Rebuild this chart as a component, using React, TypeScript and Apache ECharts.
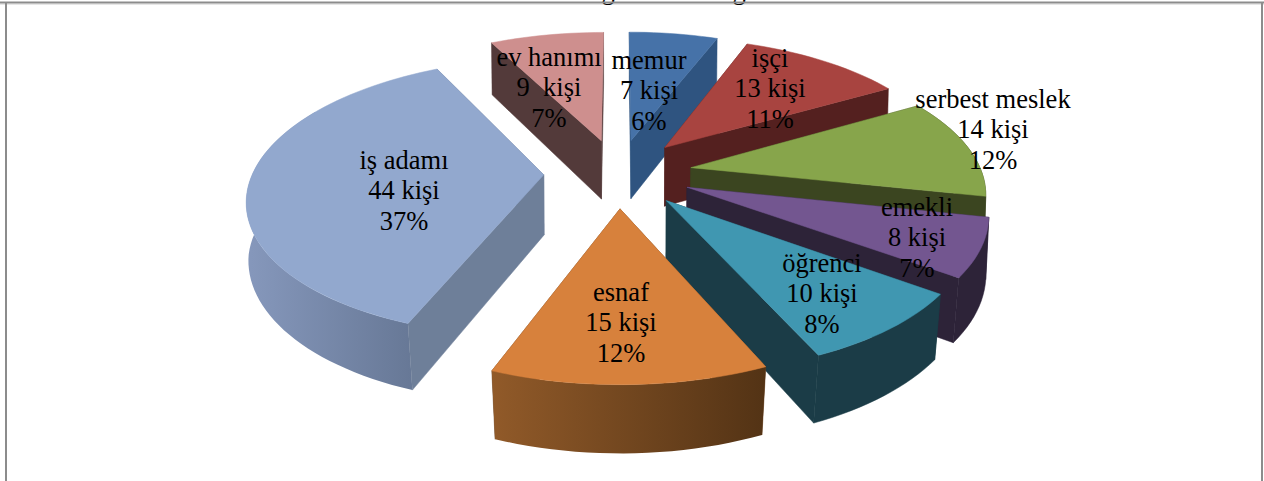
import React, { useEffect, useRef } from "react";
import * as echarts from "echarts";

const names = ["memur", "işçi", "serbest meslek", "emekli", "öğrenci", "esnaf", "iş adamı", "ev hanımı"];
const values = [7, 13, 14, 8, 10, 15, 44, 9];
const percents = [6, 11, 12, 7, 8, 12, 37, 7];
const countTexts = ["7 kişi", "13 kişi", "14 kişi", "8 kişi", "10 kişi", "15 kişi", "44 kişi", "9\u00a0 kişi"];
const titleFragments = ["g", "g"];

const topColors = ["#4672A8", "#A84440", "#87A54B", "#735690", "#4097B1", "#D7813C", "#92A8CE", "#CE8F8E"];
const wallColors = ["#2F5480", "#54201F", "#3B4520", "#2D2338", "#1B3C47", "#6B4220", "#6E7F99", "#533A3A"];
const outerGradients: (string[] | null)[] = [null, null, null, null, null, ["#915A29", "#533315"], ["#8698BC", "#677896"], null];

// painter's order, back to front
const paintOrder = [7, 0, 1, 6, 2, 3, 4, 5];
// label centres (middle line), layout only
const labelCentres = [
  [649, 90], [770, 88], [993, 129], [917, 237], [822, 293], [621, 322], [404, 190], [549, 87],
];
const titleFragmentX = [608, 739];

const CX = 618, CY = 173, A = 291, B = 135, K = 0.159, EXPLODE = 0.255;
const total = values.reduce((a, b) => a + b, 0);
const rad = (d: number) => (d * Math.PI) / 180;

function project(X: number, Y: number, bottom: boolean) {
  const w = 1 - K * Y;
  let sx = (A * X) / w;
  let sy = (B * Y) / w;
  if (bottom) {
    sx *= Math.min(0.995, 0.998 - 0.02 * Y);
    sy += 60 + 7 * Y;
  }
  return [CX + sx, CY + sy];
}

function sliceGeometry(i: number) {
  const start = (values.slice(0, i).reduce((a, b) => a + b, 0) / total) * 360;
  const end = start + (values[i] / total) * 360;
  const mid = rad((start + end) / 2);
  const ox = EXPLODE * Math.sin(mid);
  const oy = -EXPLODE * Math.cos(mid);
  const at = (deg: number, rho: number, bottom: boolean) =>
    project(rho * Math.sin(rad(deg)) + ox, -rho * Math.cos(rad(deg)) + oy, bottom);
  return { start, end, at };
}

function arc(at: any, a: number, b: number, bottom: boolean) {
  const pts: number[][] = [];
  const n = Math.max(2, Math.ceil(Math.abs(b - a) / 2));
  for (let j = 0; j <= n; j++) pts.push(at(a + ((b - a) * j) / n, 1, bottom));
  return pts;
}

function renderSlice(_params: any, api: any) {
  const i = api.value(0);
  const { start, end, at } = sliceGeometry(i);
  const wallColor = wallColors[i];
  const walls: { pts: number[][]; fill: any; stroke: any }[] = [];
  const radial = (deg: number) => [at(deg, 0, false), at(deg, 1, false), at(deg, 1, true), at(deg, 0, true)];
  walls.push({ pts: radial(start), fill: wallColor, stroke: wallColor });
  walls.push({ pts: radial(end), fill: wallColor, stroke: wallColor });
  const fa = Math.max(start, 60);
  const fb = Math.min(end, 300);
  if (fb > fa) {
    const grad = outerGradients[i];
    const fill = grad
      ? new echarts.graphic.LinearGradient(0, 0, 1, 0, [
          { offset: 0, color: grad[0] },
          { offset: 1, color: grad[1] },
        ])
      : wallColor;
    walls.push({
      pts: [...arc(at, fa, fb, false), ...arc(at, fb, fa, true)],
      fill,
      stroke: grad ? "none" : wallColor,
    });
  }
  const meanY = (p: number[][]) => p.reduce((s, q) => s + q[1], 0) / p.length;
  walls.sort((a, b) => meanY(a.pts) - meanY(b.pts));
  const children: any[] = walls.map((w) => ({
    type: "polygon",
    shape: { points: w.pts },
    style: { fill: w.fill, stroke: w.stroke, lineWidth: 0.5 },
  }));
  children.push({
    type: "polygon",
    shape: { points: [at(start, 0, false), ...arc(at, start, end, false)] },
    style: { fill: topColors[i], stroke: topColors[i], lineWidth: 0.5 },
  });
  return { type: "group", children };
}

function renderLabel(_params: any, api: any) {
  const i = api.value(0);
  return {
    type: "text",
    x: labelCentres[i][0],
    y: labelCentres[i][1],
    style: {
      text: `${names[i]}\n${countTexts[i]}\n${percents[i]}%`,
      fontFamily: '"Liberation Serif", serif',
      fontSize: 26.5,
      fill: "#000",
      align: "center",
      verticalAlign: "middle",
      lineHeight: 30.5,
    },
  };
}

export default function App() {
  const ref = useRef<HTMLDivElement>(null);
  useEffect(() => {
    const chart = echarts.init(ref.current!, null, { renderer: "svg" });
    chart.setOption({
      animation: false,
      backgroundColor: "#fff",
      graphic: [
        { type: "rect", shape: { x: 0, y: 3.5, width: 1264, height: 1.5 }, style: { fill: "#E6E6E6" }, z: 1 },
        { type: "line", shape: { x1: 0, y1: 2.5, x2: 1264, y2: 2.5 }, style: { stroke: "#8C8C8C", lineWidth: 2 }, z: 2 },
        { type: "line", shape: { x1: 6, y1: 2, x2: 6, y2: 481 }, style: { stroke: "#8C8C8C", lineWidth: 2 }, z: 2 },
        { type: "line", shape: { x1: 1262, y1: 2, x2: 1262, y2: 481 }, style: { stroke: "#8C8C8C", lineWidth: 2 }, z: 2 },
        ...titleFragments.map((t, k) => ({
          type: "text",
          x: titleFragmentX[k],
          y: 3.5,
          z: 1,
          style: {
            text: t,
            fontFamily: '"Liberation Serif", serif',
            fontSize: 26.5,
            fill: "#000",
            align: "center",
            verticalAlign: "bottom",
          },
        })),
      ],
      series: [
        {
          type: "custom",
          coordinateSystem: "none",
          renderItem: renderSlice,
          data: paintOrder.map((i) => [i, values[i]]),
          silent: true,
          z: 5,
        },
        {
          type: "custom",
          coordinateSystem: "none",
          renderItem: renderLabel,
          data: paintOrder.map((i) => [i, values[i]]),
          silent: true,
          z: 6,
        },
      ],
    });
    return () => chart.dispose();
  }, []);
  return <div ref={ref} style={{ position: "fixed", left: 0, top: 0, width: 1264, height: 481 }} />;
}
